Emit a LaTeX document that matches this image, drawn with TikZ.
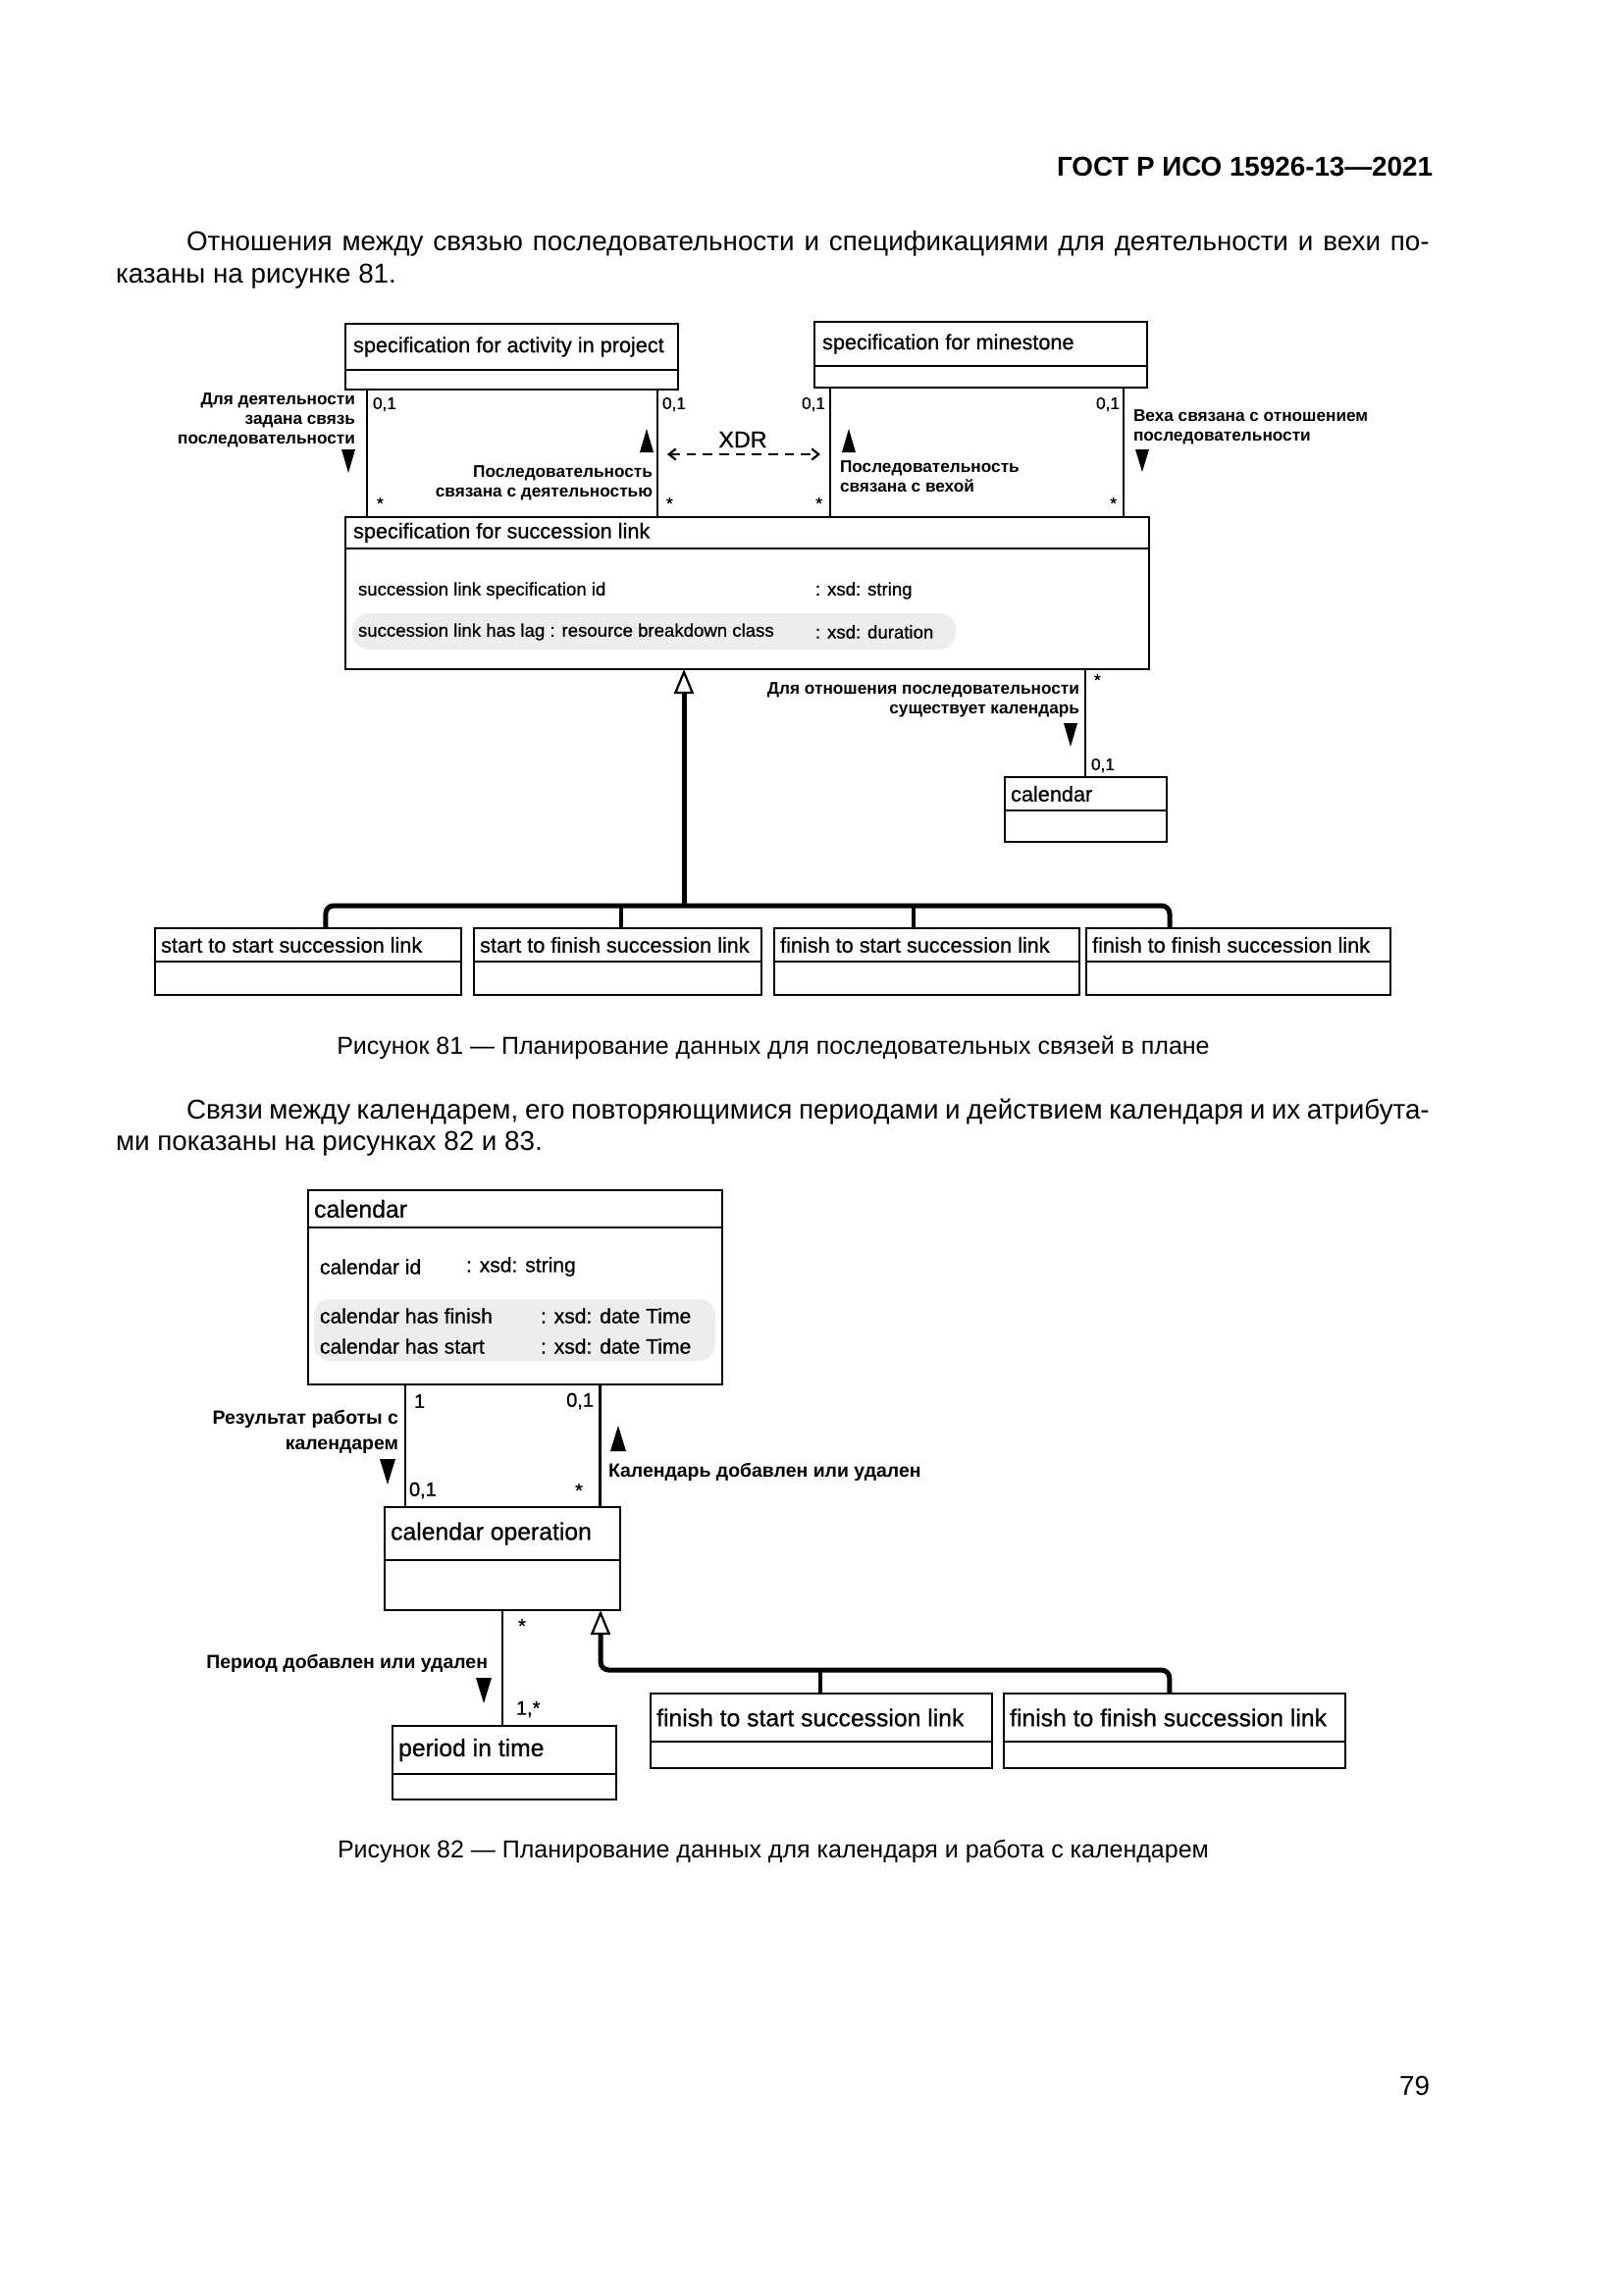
\documentclass[tikz,border=0pt]{standalone}
\usepackage{fontspec}
\setmainfont{Liberation Sans}
\newfontfamily\dgmfont[FakeBold=0.7]{Liberation Sans}
\usetikzlibrary{positioning,fit,arrows.meta}

\begin{document}
\begin{tikzpicture}[x=0.36pt,y=-0.36pt,
every node/.style={inner sep=0pt, outer sep=0pt},
cls/.style={draw, line width=1pt, inner sep=0pt},
ttl/.style={font=\dgmfont\fontsize{7.8}{9}\selectfont},
ttlb/.style={font=\dgmfont\fontsize{8.9}{10}\selectfont},
attr/.style={font=\dgmfont\fontsize{6.7}{8}\selectfont, anchor=west},
attrb/.style={font=\dgmfont\fontsize{7.6}{9}\selectfont, anchor=west},
ann/.style={font=\bfseries\fontsize{6.2}{7.2}\selectfont},
annb/.style={font=\bfseries\fontsize{7}{9.4}\selectfont},
mult/.style={font=\dgmfont\fontsize{6.2}{7}\selectfont},
multb/.style={font=\dgmfont\fontsize{7.2}{8}\selectfont},
assoc/.style={line width=0.8pt},
genline/.style={line width=1.8pt},
drop/.style={line width=1.5pt},
hl/.style={fill=black!7, rounded corners=6pt},
gentip/.style={{Triangle[open,length=9pt,width=7.2pt,line width=0.8pt]}-},
xdr/.style={line width=0.8pt, dash pattern=on 3.5pt off 2.5pt, {Straight Barb[length=2.5pt,width=4pt]}-{Straight Barb[length=2.5pt,width=4pt]}},
body/.style={font=\fontsize{10}{12}\selectfont},
capt/.style={font=\fontsize{9}{11}\selectfont}]

\fill[white] (0,0) rectangle (1654,2339);
\useasboundingbox (0,0) rectangle (1654,2339);

% page text
\node[font=\bfseries\fontsize{10}{12}\selectfont, anchor=east] (hdr) at (1460,170) {ГОСТ Р ИСО 15926-13—2021};
\node[body, anchor=west] (p1a) at (190,248) {\hbox to 456pt{Отношения между связью последовательности и спецификациями для деятельности и вехи по-}};
\node[body, anchor=west] (p1b) at (118,282) {казаны на рисунке 81.};
\node[capt] (cap1) at (788,1068) {Рисунок 81 — Планирование данных для последовательных связей в плане};
\node[body, anchor=west] (p2a) at (190,1133) {\hbox to 456pt{Связи между календарем, его повторяющимися периодами и действием календаря и их атрибута-}};
\node[body, anchor=west] (p2b) at (118,1166) {ми показаны на рисунках 82 и 83.};
\node[capt] (cap2) at (788,1887) {Рисунок 82 — Планирование данных для календаря и работа с календарем};
\node[body, anchor=east] (pg) at (1457,2126) {79};

% figure 81
\node[cls, fit={(352,330) (691,377)}] (act) {};
\node[cls, fit={(352,377) (691,397)}] (actb) {};
\node[ttl, right=2.9pt of act.west] (actt) {specification for activity in project};
\node[cls, fit={(830,328) (1169,373)}] (mil) {};
\node[cls, fit={(830,373) (1169,395)}] (milb) {};
\node[ttl, right=2.9pt of mil.west] (milt) {specification for minestone};
\node[cls, fit={(352,527) (1171,559)}] (spec) {};
\node[cls, fit={(352,559) (1171,682)}] (specb) {};
\node[ttl, right=2.9pt of spec.west] (spect) {specification for succession link};
\fill[hl] (359,625) rectangle (974,662);
\node[attr] (a1) at (365,602) {succession link specification id};
\node[attr] (a1t) at (831,602) {: xsd: string};
\node[attr] (a2) at (365,644) {succession link has lag : resource breakdown class};
\node[attr] (a2t) at (831,644) {: xsd: duration};
\node[cls, fit={(1024,792) (1189,826)}] (cal) {};
\node[cls, fit={(1024,826) (1189,858)}] (calb) {};
\node[ttl, right=2.2pt of cal.west] (calt) {calendar};

\node[cls, fit={(158,946) (470,980)}] (sts) {};
\node[cls, fit={(158,980) (470,1014)}] (stsb) {};
\node[ttl, right=2.2pt of sts.west] (stst) {start to start succession link};
\node[cls, fit={(483,946) (776,980)}] (stf) {};
\node[cls, fit={(483,980) (776,1014)}] (stfb) {};
\node[ttl, right=2.2pt of stf.west] (stft) {start to finish succession link};
\node[cls, fit={(789,946) (1100,980)}] (fts) {};
\node[cls, fit={(789,980) (1100,1014)}] (ftsb) {};
\node[ttl, right=2.2pt of fts.west] (ftst) {finish to start succession link};
\node[cls, fit={(1107,946) (1417,980)}] (ftf) {};
\node[cls, fit={(1107,980) (1417,1014)}] (ftfb) {};
\node[ttl, right=2.2pt of ftf.west] (ftft) {finish to finish succession link};

% associations
\coordinate (l1) at ([xshift=7.9pt]actb.south west);
\draw[assoc] (l1) -- (l1 |- spec.north);
\coordinate (l2) at ([xshift=-7.6pt]actb.south east);
\draw[assoc] (l2) -- (l2 |- spec.north);
\coordinate (l3) at ([xshift=5.8pt]milb.south west);
\draw[assoc] (l3) -- (l3 |- spec.north);
\coordinate (l4) at ([xshift=-8.6pt]milb.south east);
\draw[assoc] (l4) -- (l4 |- spec.north);
\coordinate (l5) at ([xshift=-23.4pt]specb.south east);
\draw[assoc] (l5) -- (l5 |- cal.north);

\node[mult, anchor=west] (m1) at (380,412) {0,1};
\node[mult, anchor=west] (m2) at (384,513) {*};
\node[mult, anchor=west] (m3) at (675,412) {0,1};
\node[mult, anchor=west] (m4) at (679,513) {*};
\node[mult, anchor=east] (m5) at (841,412) {0,1};
\node[mult, anchor=east] (m6) at (838,513) {*};
\node[mult, anchor=east] (m7) at (1141,412) {0,1};
\node[mult, anchor=east] (m8) at (1138,513) {*};
\node[mult, anchor=west] (m9) at (1115,693) {*};
\node[mult, anchor=west] (m10) at (1112,780) {0,1};

\node[ann, align=right, anchor=east] (n1) at (362,428) {Для деятельности\\задана связь\\последовательности};
\fill (348,458) -- (362,458) -- (355,482) -- cycle;
\node[ann, align=right, anchor=east] (n2) at (665,492) {Последовательность\\связана с деятельностью};
\fill (652,461) -- (666,461) -- (659,437) -- cycle;
\node[ann, align=left, anchor=west] (n3) at (856,486) {Последовательность\\связана с вехой};
\fill (858,461) -- (872,461) -- (865,437) -- cycle;
\node[ann, align=left, anchor=west] (n4) at (1155,435) {Веха связана с отношением\\последовательности};
\fill (1157,458) -- (1171,458) -- (1164,481) -- cycle;
\node[ann, align=right, anchor=east] (n5) at (1100,713) {Для отношения последовательности\\существует календарь};
\fill (1084,737) -- (1098,737) -- (1091,761) -- cycle;

\coordinate (xa) at (680,463);
\coordinate (xb) at (836,463);
\draw[xdr] (xa) -- (xb);
\node[font=\dgmfont\fontsize{8.4}{10}\selectfont] (xdrt) at (757,448) {XDR};

% generalization
\coordinate (g1) at (697,923);
\draw[genline, gentip] (g1 |- specb.south) -- (g1);
\draw[genline, rounded corners=3pt] ([xshift=62.6pt]sts.north west) |- (g1) -| ([xshift=30.6pt]ftf.north west);
\coordinate (v2) at ([xshift=54pt]stf.north west);
\draw[drop] (v2) -- (v2 |- g1);
\coordinate (v3) at ([xshift=51.1pt]fts.north west);
\draw[drop] (v3) -- (v3 |- g1);

% figure 82
\node[cls, fit={(314,1213) (736,1251)}] (cal2) {};
\node[cls, fit={(314,1251) (736,1411)}] (cal2b) {};
\node[ttlb, right=2.2pt of cal2.west] (cal2t) {calendar};
\fill[hl] (320,1324) rectangle (729,1387);
\node[attrb] (c1) at (326,1291) {calendar id};
\node[attrb] (c1t) at (475,1291) {: xsd: string};
\node[attrb] (c2) at (326,1341) {calendar has finish};
\node[attrb] (c2t) at (551,1341) {: xsd: date Time};
\node[attrb] (c3) at (326,1372) {calendar has start};
\node[attrb] (c3t) at (551,1372) {: xsd: date Time};

\node[cls, fit={(392,1536) (632,1590)}] (op) {};
\node[cls, fit={(392,1590) (632,1641)}] (opb) {};
\node[ttlb, right=2.2pt of op.west] (opt) {calendar operation};
\node[cls, fit={(400,1759) (628,1808)}] (per) {};
\node[cls, fit={(400,1808) (628,1834)}] (perb) {};
\node[ttlb, right=2.2pt of per.west] (pert) {period in time};
\node[cls, fit={(663,1726) (1011,1775)}] (fts2) {};
\node[cls, fit={(663,1775) (1011,1802)}] (fts2b) {};
\node[ttlb, right=2.2pt of fts2.west] (fts2t) {finish to start succession link};
\node[cls, fit={(1023,1726) (1371,1775)}] (ftf2) {};
\node[cls, fit={(1023,1775) (1371,1802)}] (ftf2b) {};
\node[ttlb, right=2.2pt of ftf2.west] (ftf2t) {finish to finish succession link};

\coordinate (k1) at ([xshift=35.5pt]cal2b.south west);
\draw[assoc] (k1) -- (k1 |- op.north);
\coordinate (k2) at ([xshift=-44.8pt]cal2b.south east);
\draw[assoc] (k2) -- (k2 |- op.north);
\coordinate (k3) at ([xshift=43.2pt]opb.south west);
\draw[assoc] (k3) -- (k3 |- per.north);

\node[multb, anchor=west] (q1) at (422,1428) {1};
\node[multb, anchor=east] (q2) at (605,1428) {0,1};
\node[multb, anchor=west] (q3) at (417,1519) {0,1};
\node[multb] (q4) at (590,1519) {*};
\node[multb] (q5) at (532,1657) {*};
\node[multb, anchor=west] (q6) at (526,1742) {1,*};

\node[annb, align=right, anchor=east] (n6) at (406,1459) {Результат работы с\\календарем};
\fill (387,1487) -- (403,1487) -- (395,1513) -- cycle;
\fill (622,1479) -- (638,1479) -- (630,1453) -- cycle;
\node[annb, anchor=west] (n7) at (620,1500) {Календарь добавлен или удален};
\node[annb, anchor=east] (n8) at (497,1695) {Период добавлен или удален};
\fill (485,1710) -- (501,1710) -- (493,1736) -- cycle;

\coordinate (g2) at (612,1702);
\draw[genline, gentip, rounded corners=3pt] (g2 |- opb.south) -- (g2) -| ([xshift=60.8pt]ftf2.north west);
\coordinate (v5) at ([xshift=62.3pt]fts2.north west);
\draw[drop] (v5) -- (v5 |- g2);
\end{tikzpicture}
\end{document}
